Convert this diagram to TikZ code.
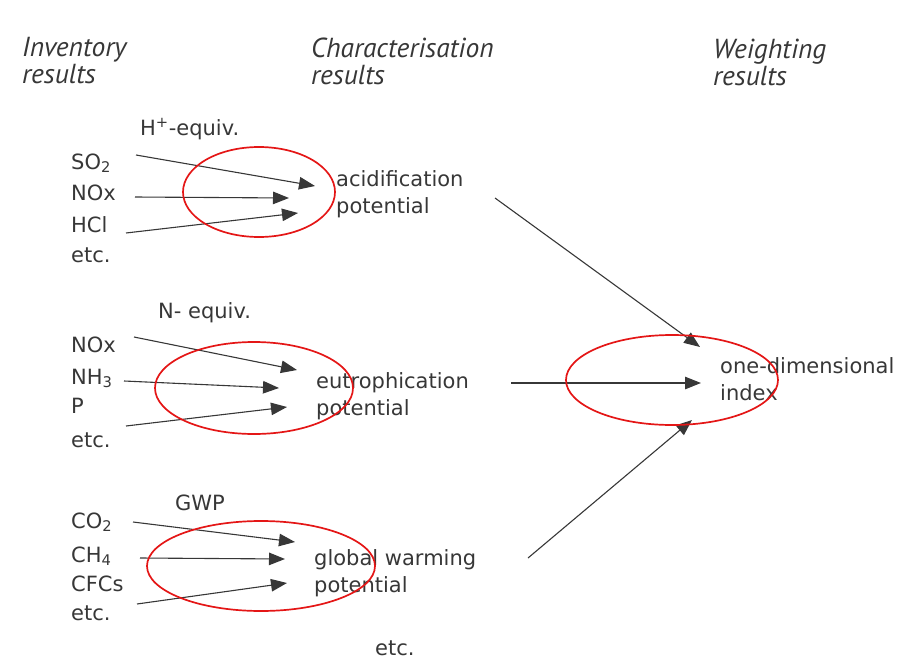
\documentclass[tikz,border=0pt]{standalone}
\usepackage{fontspec}
\setmainfont{DejaVu Sans}
\newfontfamily\headfam{PT Sans}
\usetikzlibrary{arrows.meta}
\definecolor{ink}{RGB}{55,55,55}
\definecolor{ringred}{RGB}{228,22,22}
\tikzset{
  item/.style={anchor=base west, inner sep=0pt, text=ink, align=left,
    font=\fontsize{21}{26.5}\selectfont},
  head/.style={anchor=base west, inner sep=0pt, text=ink, align=left,
    font=\headfam\itshape\fontsize{27.5}{26.5}\selectfont},
  link/.style={draw=ink, line width=1.1pt, -{Triangle[length=16pt,width=12.5pt]}},
  ring/.style={draw=ringred, line width=1.7pt},
}
\begin{document}
\begin{tikzpicture}[x=1pt,y=-1pt]
    \useasboundingbox (0,0) rectangle (922,659);
    % Headings (anchored at the last line)
    \node[head] (inv) at (22,83) {Inventory\\results};
    \node[head] (char) at (311,84) {Characterisation\\results};
    \node[head] (wgt) at (713,85) {Weighting\\results};
    % Acidification
    \node[item] (hunit) at (140,135) {H\textsuperscript{+}-equiv.};
    \foreach \nm/\txt/\yy in {so2/SO\textsubscript{2}/169, noxa/NOx/200,
        hcl/HCl/232, etca/etc./262} {
        \node[item] (\nm) at (71,\yy) {\txt};
    }
    \node[item] (acid) at (336,213) {acidification\\potential};
    \coordinate (acidA) at (315,186);
    \coordinate (acidB) at (289,198);
    \coordinate (acidC) at (298,213);
    \draw[link] ([shift={(65,-14)}]so2.base west) -- (acidA);
    \draw[link] ([shift={(64,-3)}]noxa.base west) -- (acidB);
    \draw[link] ([shift={(55,1)}]hcl.base west) -- (acidC);
    \draw[ring] (259,192) ellipse [x radius=76pt, y radius=45pt];
    % Eutrophication
    \node[item] (nunit) at (158,318) {N- equiv.};
    \foreach \nm/\txt/\yy in {noxb/NOx/352, nh3/NH\textsubscript{3}/384,
        p/P/413, etcb/etc./447} {
        \node[item] (\nm) at (71,\yy) {\txt};
    }
    \node[item] (eutro) at (316,415) {eutrophication\\potential};
    \coordinate (eutroA) at (297,370);
    \coordinate (eutroB) at (279,388);
    \coordinate (eutroC) at (287,407);
    \draw[link] ([shift={(63,-15)}]noxb.base west) -- (eutroA);
    \draw[link] ([shift={(53,-3)}]nh3.base west) -- (eutroB);
    \draw[link] ([shift={(55,13)}]p.base west) -- (eutroC);
    \draw[ring] (254,388) ellipse [x radius=99pt, y radius=46pt];
    % Global warming
    \node[item] (gwpunit) at (175,510) {GWP};
    \foreach \nm/\txt/\yy in {co2/CO\textsubscript{2}/528, ch4/CH\textsubscript{4}/562,
        cfc/CFCs/591, etcc/etc./620} {
        \node[item] (\nm) at (71,\yy) {\txt};
    }
    \node[item] (gwp) at (314,592) {global warming\\potential};
    \coordinate (gwpA) at (295,542);
    \coordinate (gwpB) at (285,559);
    \coordinate (gwpC) at (287,583);
    \draw[link] ([shift={(62,-6)}]co2.base west) -- (gwpA);
    \draw[link] ([shift={(69,-4)}]ch4.base west) -- (gwpB);
    \draw[link] ([shift={(66,13)}]cfc.base west) -- (gwpC);
    \draw[ring] (261,566) ellipse [x radius=114pt, y radius=45pt];
    \node[item] (etcd) at (375,655) {etc.};
    % Weighting
    \node[item] (index) at (720,400) {one-dimensional\\index};
    \coordinate (indexA) at (700,347);
    \coordinate (indexB) at (701,383);
    \coordinate (indexC) at (692,420);
    \draw[link] ([shift={(159,-15)}]acid.base west) -- (indexA);
    \draw[link] ([shift={(195,-32)}]eutro.base west) -- (indexB);
    \draw[link] ([shift={(214,-34)}]gwp.base west) -- (indexC);
    \draw[ring] (672,380) ellipse [x radius=106pt, y radius=45pt];
\end{tikzpicture}
\end{document}
